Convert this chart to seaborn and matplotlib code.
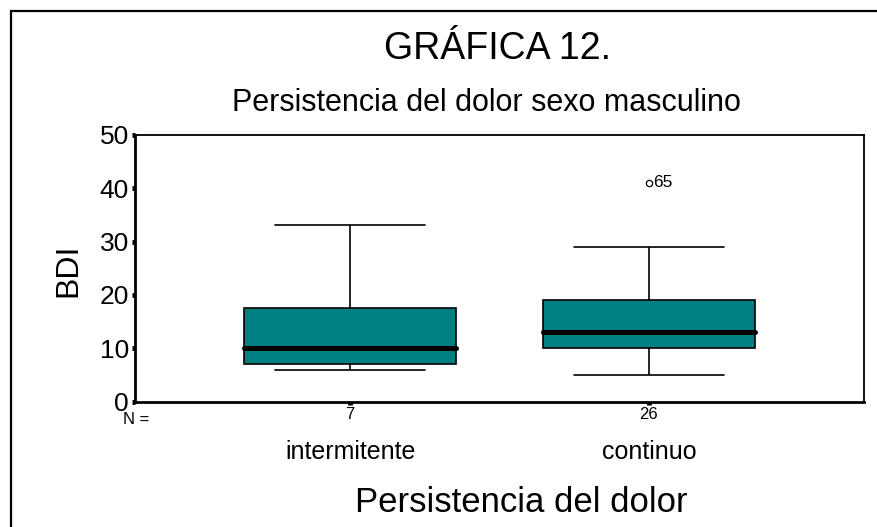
import numpy as np
import pandas as pd
import matplotlib
matplotlib.use("Agg")
import matplotlib.pyplot as plt
import seaborn as sns
from matplotlib.patches import Rectangle
from matplotlib.transforms import blended_transform_factory

# ─────────────────────────────────────────────
# DATA
# ─────────────────────────────────────────────
categories = ["intermitente", "continuo"]
bdi_intermitente = [6, 7, 7, 10, 15, 20, 33]
bdi_continuo = [5, 6, 7, 8, 9, 10, 10, 10, 11, 12, 12, 13, 13,
                13, 14, 15, 16, 18, 19, 19, 20, 22, 24, 26, 29, 41]
outlier_case = "65"

df = pd.DataFrame({
    "persistencia": [categories[0]] * len(bdi_intermitente)
                    + [categories[1]] * len(bdi_continuo),
    "BDI": bdi_intermitente + bdi_continuo,
})
n_counts = [len(bdi_intermitente), len(bdi_continuo)]

# ─────────────────────────────────────────────
# STYLE
# ─────────────────────────────────────────────
sns.set_style("white")
plt.rcParams["font.family"] = ["Liberation Sans", "DejaVu Sans"]
plt.rcParams["text.color"] = "black"
plt.rcParams["xtick.color"] = "black"
plt.rcParams["ytick.color"] = "black"
plt.rcParams["axes.labelcolor"] = "black"

TEAL = "#008080"
BOX_W = 0.71

fig = plt.figure(figsize=(8.77, 5.27), dpi=100)
ax = fig.add_axes([135 / 877, 1 - 401.7 / 527, (864 - 135) / 877, (401.7 - 134.7) / 527])

sns.boxplot(
    data=df, x="persistencia", y="BDI", order=categories, ax=ax,
    color=TEAL, saturation=1, width=BOX_W, whis=1.5,
    linecolor="black", linewidth=1.2,
    medianprops=dict(color="black", linewidth=3.6, solid_capstyle="round"),
    flierprops=dict(marker="o", markersize=4.5, markerfacecolor="white",
                    markeredgecolor="black", markeredgewidth=0.9),
)

# widen the whisker caps (SPSS style)
for ln in ax.lines:
    xs, ys = np.asarray(ln.get_xdata(), float), np.asarray(ln.get_ydata(), float)
    if len(xs) == 2 and ys[0] == ys[1] and abs((xs[1] - xs[0]) - 0.5 * BOX_W) < 1e-6:
        c = xs.mean()
        ln.set_xdata([c - 0.25, c + 0.25])

# label the outlier with its case number
ax.text(1.015, max(bdi_continuo), outlier_case, fontsize=12.5,
        ha="left", va="center")

ax.set_xlim(-0.72, 1.72)
ax.set_ylim(0, 50)
ax.set_yticks(range(0, 51, 10))
ax.tick_params(axis="y", labelsize=19, length=2.5, width=3.5, pad=2,
               direction="out", left=True)
ax.set_xticks([0, 1])
ax.set_xticklabels([str(n) for n in n_counts], fontsize=12)
ax.tick_params(axis="x", length=2.5, width=3.5, pad=1, direction="out", bottom=True)
ax.set_xlabel("")
ax.set_ylabel("")

for side in ["left", "bottom"]:
    ax.spines[side].set_linewidth(2.0)
for side in ["top", "right"]:
    ax.spines[side].set_linewidth(1.3)
for sp in ax.spines.values():
    sp.set_visible(True)
    sp.set_color("black")

# category names below the N row
trans = blended_transform_factory(ax.transData, fig.transFigure)
for i, cat in enumerate(categories):
    ax.text(i, 1 - 452 / 527, cat, transform=trans, fontsize=18,
            ha="center", va="center")

fig.text(123 / 877, 1 - 419 / 527, "N =", fontsize=12, ha="left", va="center")

# titles and axis labels
fig.text(497 / 877, 1 - 49 / 527, "GRÁFICA 12.", fontsize=27, ha="center", va="center")
fig.text(486 / 877, 1 - 103 / 527, "Persistencia del dolor sexo masculino",
         fontsize=22, ha="center", va="center")
fig.text(68 / 877, 1 - 270 / 527, "BDI", fontsize=23, rotation=90,
         ha="center", va="center")
fig.text(521 / 877, 1 - 502 / 527, "Persistencia del dolor", fontsize=25,
         ha="center", va="center")

# outer frame running off the right and bottom edges
fig.patches.append(Rectangle((11 / 877, -0.2), 1.2, 1.2 - 11 / 527,
                             transform=fig.transFigure, fill=False,
                             linewidth=1.6, edgecolor="black"))

fig.savefig("out.png", dpi=100)
